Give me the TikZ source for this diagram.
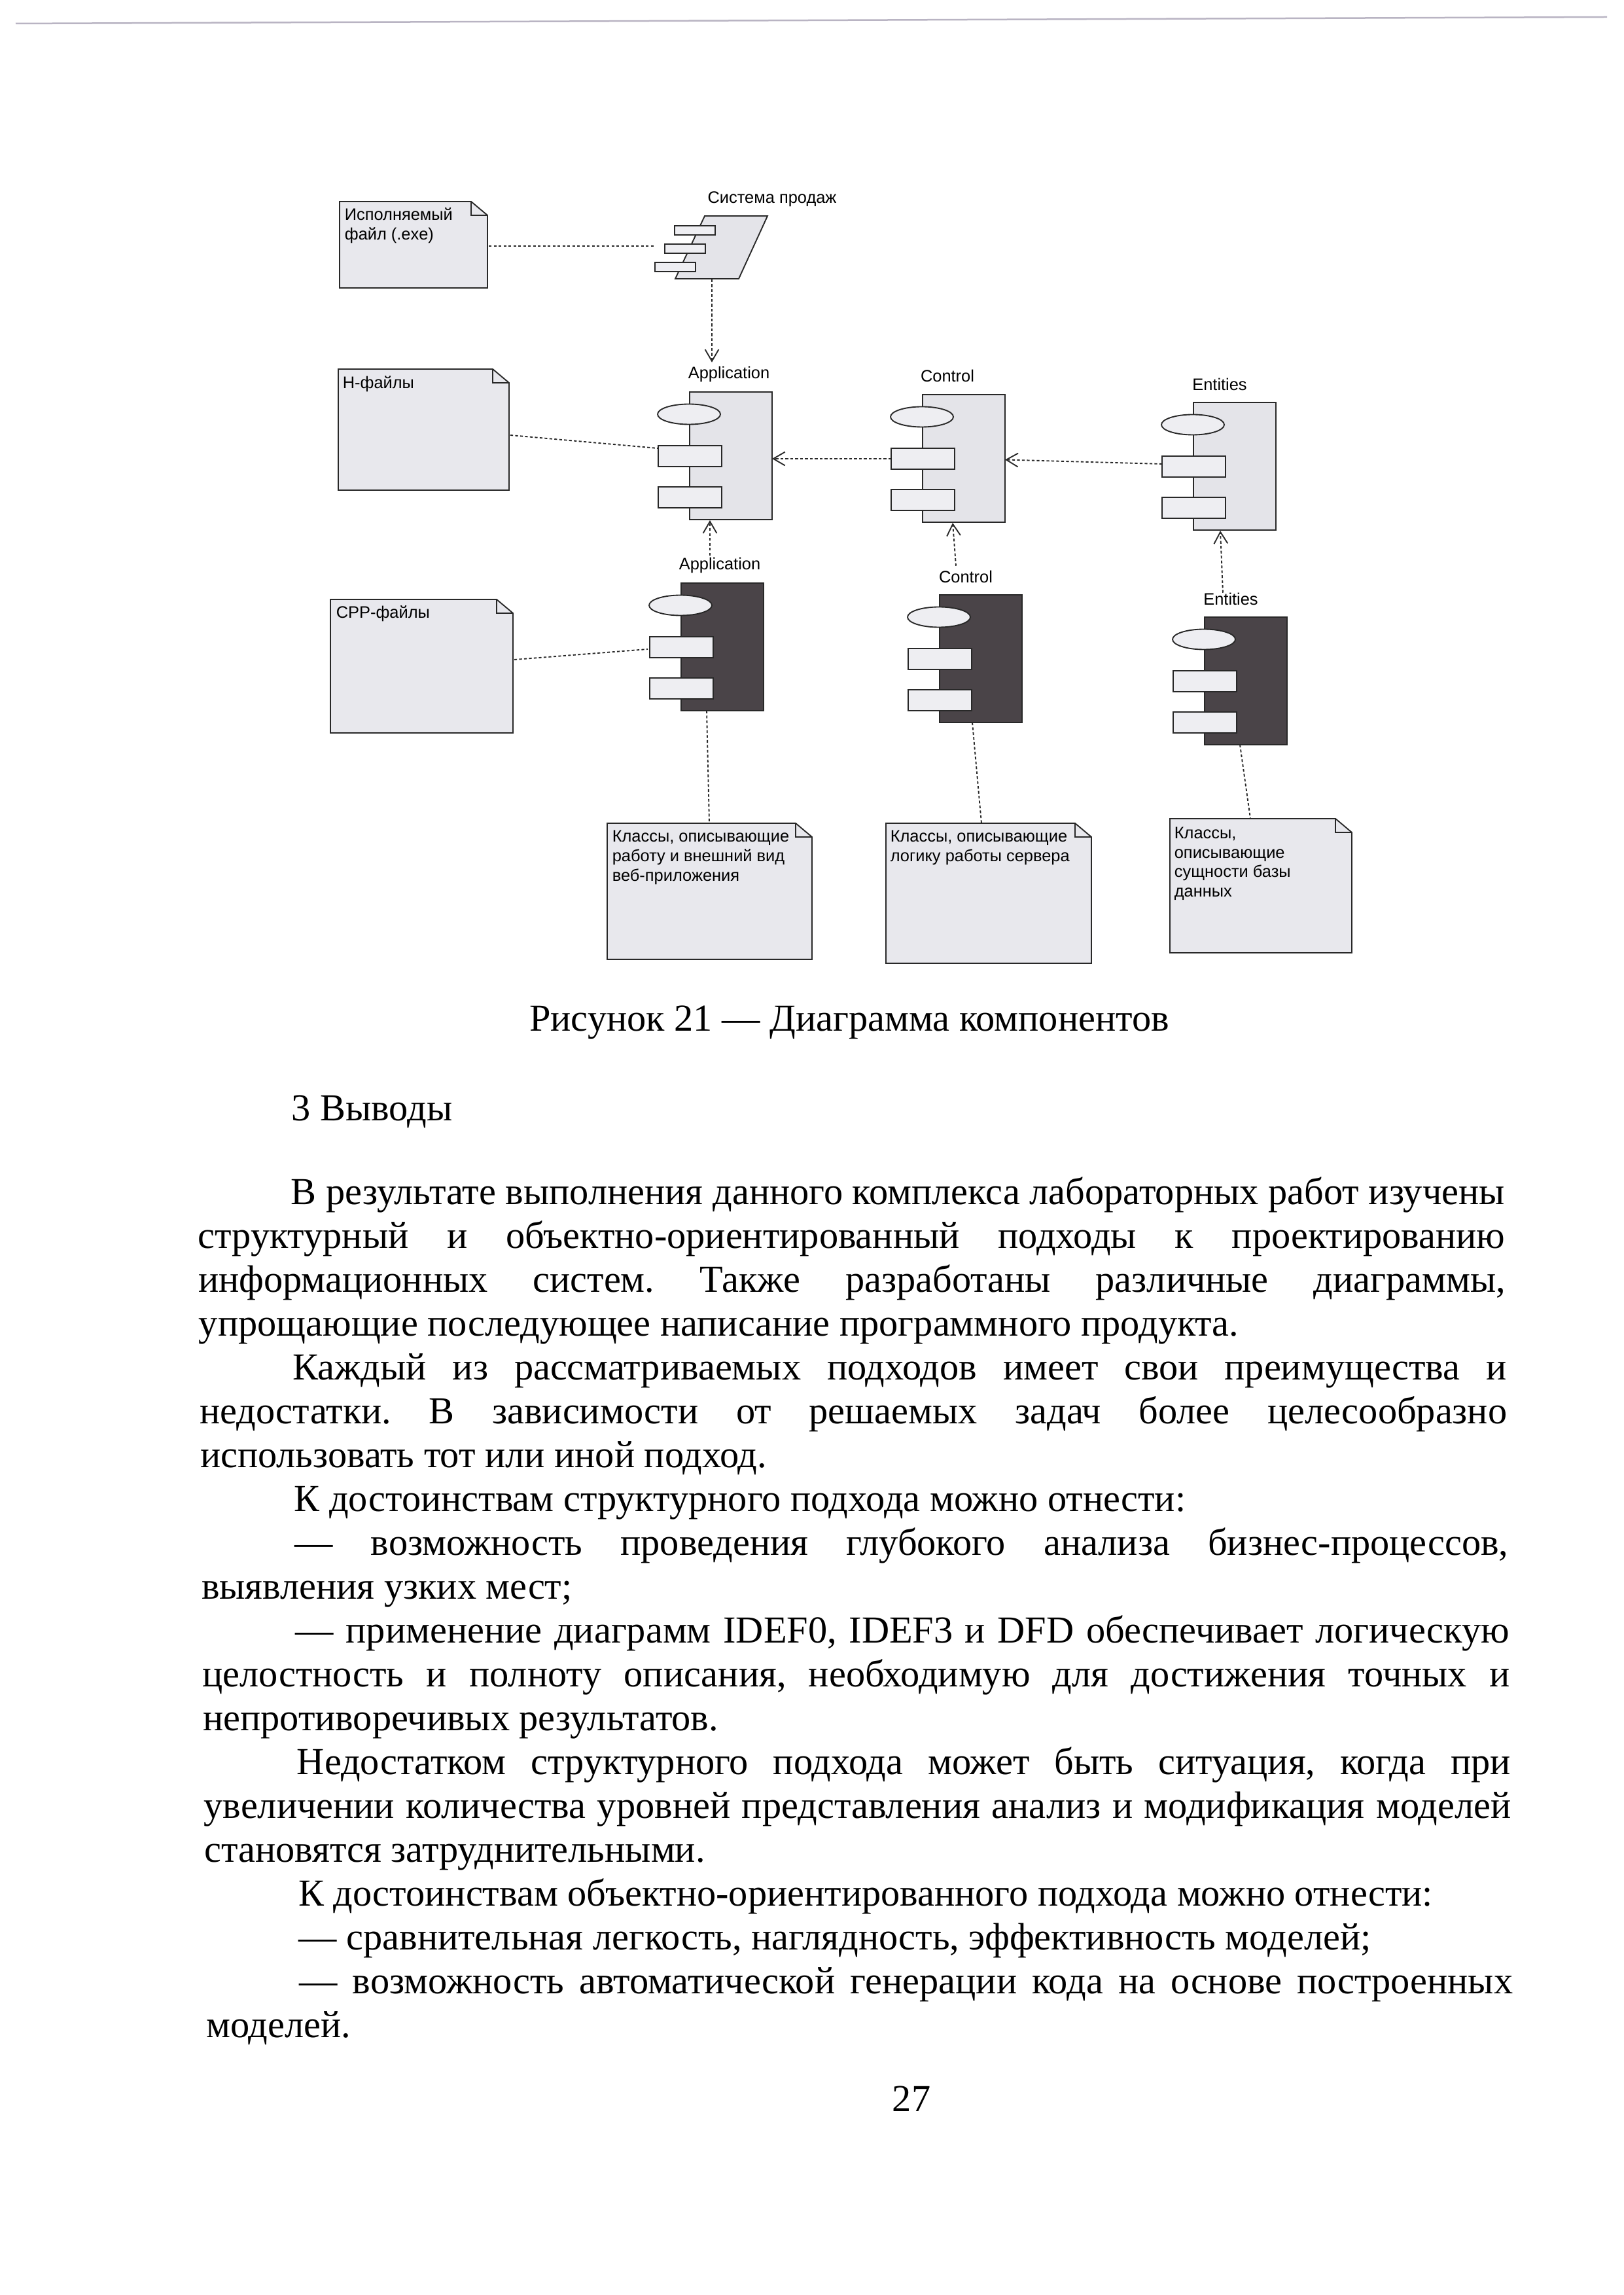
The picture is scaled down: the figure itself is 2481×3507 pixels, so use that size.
\documentclass[tikz,border=0pt]{standalone}
\usepackage{fontspec}
\setmainfont{Liberation Serif}
\newfontfamily\dfont{Liberation Sans}
\usetikzlibrary{calc,arrows.meta,shapes.geometric}

\definecolor{notefill}{RGB}{232,232,237}
\definecolor{compfill}{RGB}{228,228,233}
\definecolor{partfill}{RGB}{238,238,242}
\definecolor{darkcomp}{RGB}{74,68,72}
\definecolor{edge}{RGB}{40,40,40}
\definecolor{scanline}{RGB}{185,180,195}

% one unit = one pixel of a 300 dpi A4 page
\newdimen\pxu \pxu=0.24pt

\tikzset{
  notebox/.style={draw=none, inner sep=0, outer sep=0, anchor=north west},
  notetext/.style={inner sep=0, anchor=base west, font=\dfont\fontsize{6.1pt}{7.2pt}\selectfont},
  lbl/.style={inner sep=0, anchor=base, font=\dfont\fontsize{6.1pt}{7.2pt}\selectfont},
  compbox/.style={draw=edge, line width=0.45pt, fill=compfill, inner sep=0, outer sep=0,
    anchor=north west, minimum width=126*\pxu, minimum height=195*\pxu},
  darkbox/.style={compbox, fill=darkcomp},
  port/.style={draw=edge, line width=0.45pt, fill=partfill, inner sep=0, outer sep=0,
    minimum width=97*\pxu, minimum height=32*\pxu},
  sysport/.style={port, minimum width=62*\pxu, minimum height=14*\pxu},
  lollipop/.style={ellipse, draw=edge, line width=0.45pt, fill=partfill, inner sep=0,
    outer sep=0, minimum width=96*\pxu, minimum height=31*\pxu},
  notepath/.style={draw=edge, line width=0.45pt},
  dep/.style={draw=edge, line width=0.45pt, dash pattern=on 1pt off 0.8pt},
  deparrow/.style={dep, -{Straight Barb[length=4.3pt,width=5pt]}},
  pagetext/.style={inner sep=0, font=\fontsize{14pt}{16.08pt}\selectfont}
}

% component: box with a lollipop and two ports on its left edge
\newcommand\comp[4]{%
  \node[#2] (#1) at (#3,#4) {};
  \node[lollipop] (#1-e) at ($(#1.north west)+(-1,34)$) {};
  \node[port, anchor=north west] (#1-r1) at ($(#1.north west)+(-48,82)$) {};
  \node[port, anchor=north west] (#1-r2) at ($(#1.north west)+(-48,145)$) {};
}

% note: rectangle with a folded top right corner
\newcommand\umlnote[5]{%
  \node[notebox, minimum width=#4*\pxu, minimum height=#5*\pxu] (#1) at (#2,#3) {};
  \draw[notepath, fill=notefill] (#1.north west) -- ($(#1.north east)+(-25,0)$)
    -- ($(#1.north east)+(0,21)$) -- (#1.south east) -- (#1.south west) -- cycle;
  \draw[notepath] ($(#1.north east)+(-25,0)$) -- ($(#1.north east)+(-25,21)$)
    -- ($(#1.north east)+(0,21)$);
}

% body text lines: justified or plain, with or without paragraph indent
\newlength\bodyind \setlength\bodyind{34.32pt}
\newlength\bodywd \setlength\bodywd{479.5pt}
\newcommand\jfull[1]{\makebox[\bodywd][s]{#1}}
\newcommand\jind[1]{\hspace*{\bodyind}\makebox[\dimexpr\bodywd-\bodyind\relax][s]{#1}}
\newcommand\plainline[1]{#1}
\newcommand\pind[1]{\hspace*{\bodyind}#1}
% line #2 of the text block (counted from 0), the left edge drifting slightly right
\newcommand\bodyline[4]{%
  \node[pagetext, anchor=base west] (#1) at ({301+0.7*#2},{1840+67*#2}) {#3{#4}};}

\begin{document}
\frenchspacing
\begin{tikzpicture}[x=0.24pt, y=-0.24pt]
\fill[white] (0,0) rectangle (2481,3507);
\useasboundingbox (0,0) rectangle (2481,3507);

% thin line along the top edge of the sheet
\draw[scanline, line width=0.6pt] (24,36) -- (2456,26);

% ---------- notes ----------
\umlnote{N1}{519}{308}{226}{132}
\umlnote{N2}{517}{564}{261}{185}
\umlnote{N3}{505}{916}{279}{204}
\umlnote{N4}{928}{1258}{313}{208}
\umlnote{N5}{1354}{1258}{314}{214}
\umlnote{N6}{1788}{1251}{278}{205}

\node[notetext] (N1-t) at ($(N1.north west)+(7,29)$) {\parbox[t]{120pt}{Исполняемый\\файл (.exe)}};
\node[notetext] (N2-t) at ($(N2.north west)+(6,30)$) {\parbox[t]{120pt}{H-файлы}};
\node[notetext] (N3-t) at ($(N3.north west)+(8,29)$) {\parbox[t]{120pt}{CPP-файлы}};
\node[notetext] (N4-t) at ($(N4.north west)+(7,28)$) {\parbox[t]{120pt}{Классы, описывающие\\работу и внешний вид\\веб-приложения}};
\node[notetext] (N5-t) at ($(N5.north west)+(6,28)$) {\parbox[t]{120pt}{Классы, описывающие\\логику работы сервера}};
\node[notetext] (N6-t) at ($(N6.north west)+(6,30)$) {\parbox[t]{120pt}{Классы,\\описывающие\\сущности базы\\данных}};

% ---------- sales system component ----------
\draw[notepath, fill=compfill] (1077,330) -- (1173,330) -- (1129,426) -- (1032,426) -- cycle;
\node[sysport, anchor=north west] (SYS-r1) at (1031,345) {};
\node[sysport, anchor=north west] (SYS-r2) at (1016,373) {};
\node[sysport, anchor=north west] (SYS-r3) at (1001,401) {};
\coordinate (SYS-bot) at (1088,427);

% ---------- labels ----------
\node[lbl] (SYS-lbl)  at (1180,311) {Система продаж};
\node[lbl] (AppU-lbl) at (1114,579) {Application};
\node[lbl] (CtlU-lbl) at (1448,584) {Control};
\node[lbl] (EntU-lbl) at (1864,597) {Entities};
\node[lbl] (AppL-lbl) at (1100,871) {Application};
\node[lbl] (CtlL-lbl) at (1476,891) {Control};
\node[lbl] (EntL-lbl) at (1881,925) {Entities};

% ---------- components ----------
\comp{AppU}{compbox}{1054}{599}
\comp{CtlU}{compbox}{1410}{603}
\comp{EntU}{compbox}{1824}{615}
\comp{AppL}{darkbox}{1041}{891}
\comp{CtlL}{darkbox}{1436}{909}
\comp{EntL}{darkbox}{1841}{943}

% ---------- dependencies ----------
\draw[dep] ($(N1.north east)+(2,68)$) -- ($(SYS-r2.west)+(-16,-4)$);
\draw[deparrow] (SYS-bot) -- ($(SYS-bot |- AppU-lbl.north)+(0,-6)$);
\draw[dep] ($(N2.north east)+(2,101)$) -- ($(AppU-r1.north west)+(-1,4)$);
\draw[deparrow] (CtlU-r1.west) -- (CtlU-r1.west -| AppU.east);
\draw[deparrow] ($(EntU-r1.west)+(0,-4)$) -- ($(CtlU.east)+(0,2)$);
\draw[deparrow] ($(AppL-lbl.north)+(-15,-3)$) -- ($(AppU.south west)+(31,1)$);
\draw[deparrow] ($(CtlL-lbl.north)+(-15,-7)$) -- ($(CtlU.south west)+(46,1)$);
\draw[deparrow] ($(EntL-lbl.north)+(-12,0)$) -- ($(EntU.south west)+(41,1)$);
\draw[dep] ($(N3.north east)+(2,92)$) -- ($(AppL-r1.north west)+(-3,19)$);
\draw[dep] ($(AppL.south west)+(39,0)$) -- ($(N4.north west)+(156,0)$);
\draw[dep] ($(CtlL.south west)+(50,0)$) -- ($(N5.north west)+(146,0)$);
\draw[dep] ($(EntL.south west)+(54,0)$) -- ($(N6.north west)+(123,0)$);

% ---------- page text ----------
\node[pagetext, anchor=base] (caption) at (1298,1575) {Рисунок 21 — Диаграмма компонентов};
\node[pagetext, anchor=base west] (heading) at (445,1712) {3 Выводы};

\bodyline{L01}{0}{\jind}{В результате выполнения данного комплекса лабораторных работ изучены}
\bodyline{L02}{1}{\jfull}{структурный и объектно-ориентированный подходы к проектированию}
\bodyline{L03}{2}{\jfull}{информационных систем. Также разработаны различные диаграммы,}
\bodyline{L04}{3}{\plainline}{упрощающие последующее написание программного продукта.}
\bodyline{L05}{4}{\jind}{Каждый из рассматриваемых подходов имеет свои преимущества и}
\bodyline{L06}{5}{\jfull}{недостатки. В зависимости от решаемых задач более целесообразно}
\bodyline{L07}{6}{\plainline}{использовать тот или иной подход.}
\bodyline{L08}{7}{\pind}{К достоинствам структурного подхода можно отнести:}
\bodyline{L09}{8}{\jind}{— возможность проведения глубокого анализа бизнес-процессов,}
\bodyline{L10}{9}{\plainline}{выявления узких мест;}
\bodyline{L11}{10}{\jind}{— применение диаграмм IDEF0, IDEF3 и DFD обеспечивает логическую}
\bodyline{L12}{11}{\jfull}{целостность и полноту описания, необходимую для достижения точных и}
\bodyline{L13}{12}{\plainline}{непротиворечивых результатов.}
\bodyline{L14}{13}{\jind}{Недостатком структурного подхода может быть ситуация, когда при}
\bodyline{L15}{14}{\jfull}{увеличении количества уровней представления анализ и модификация моделей}
\bodyline{L16}{15}{\plainline}{становятся затруднительными.}
\bodyline{L17}{16}{\pind}{К достоинствам объектно-ориентированного подхода можно отнести:}
\bodyline{L18}{17}{\pind}{— сравнительная легкость, наглядность, эффективность моделей;}
\bodyline{L19}{18}{\jind}{— возможность автоматической генерации кода на основе построенных}
\bodyline{L20}{19}{\plainline}{моделей.}

\node[pagetext, anchor=base west] (pagenum) at (1363,3226) {27};
\end{tikzpicture}
\end{document}
